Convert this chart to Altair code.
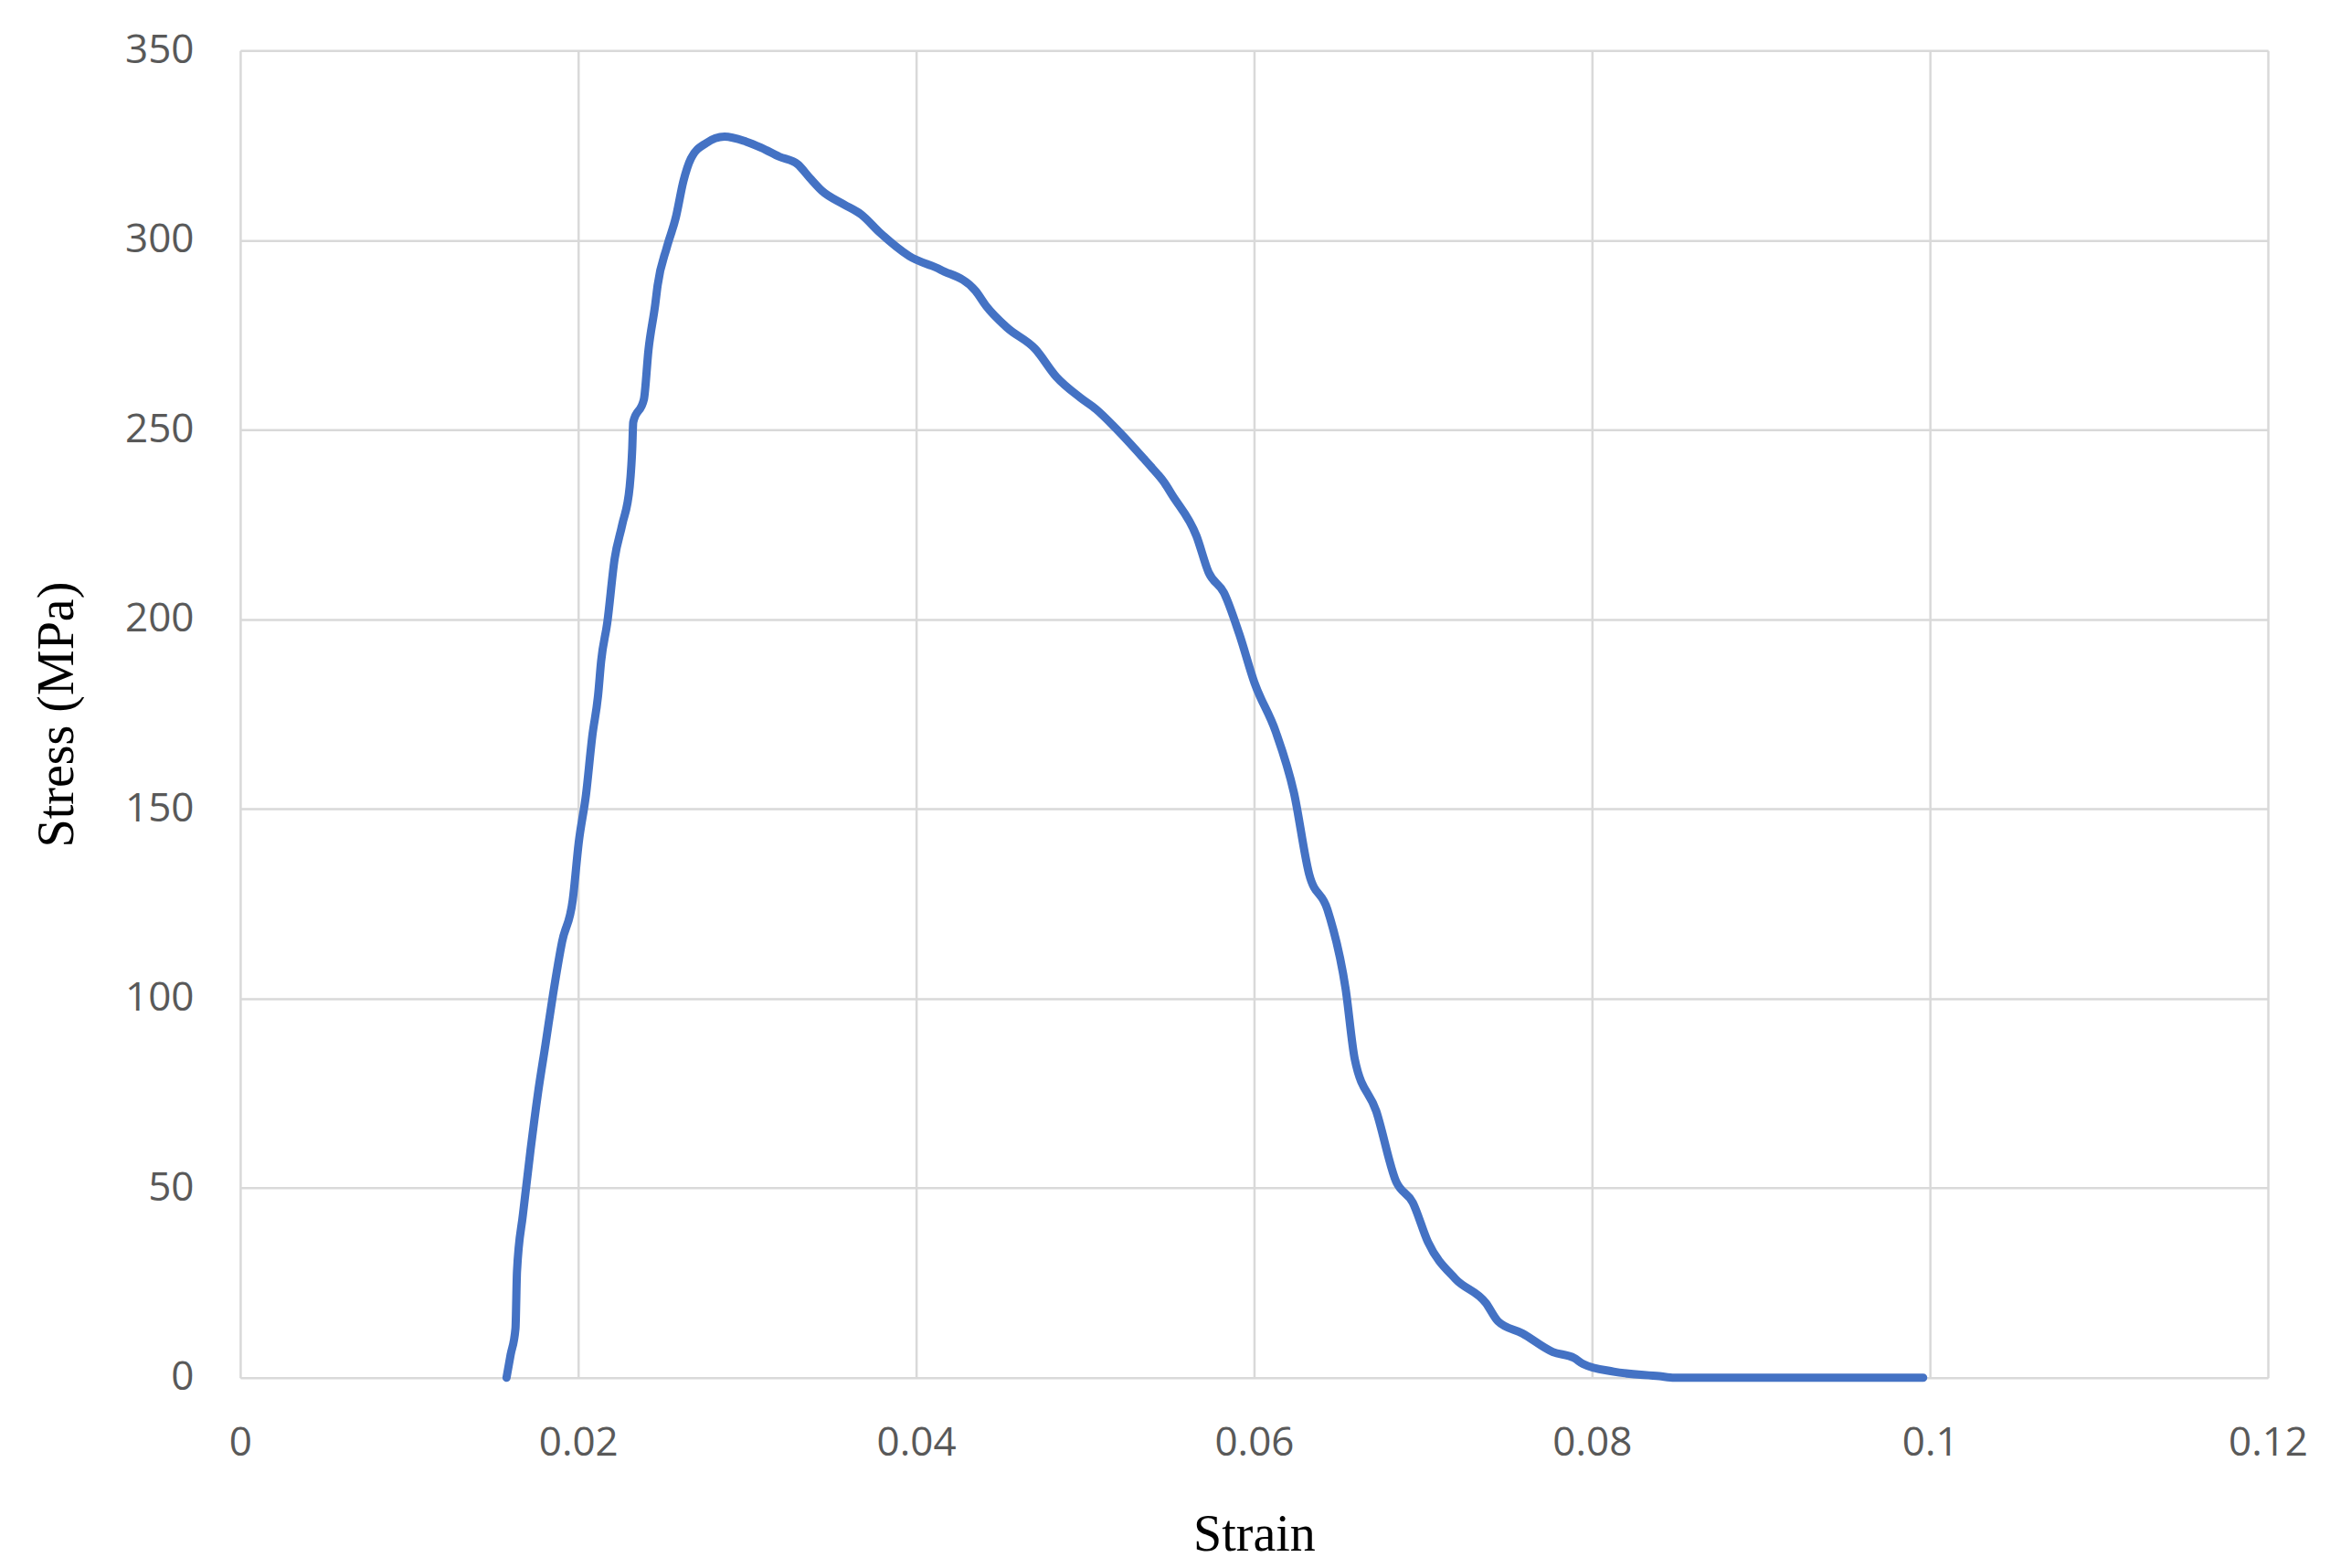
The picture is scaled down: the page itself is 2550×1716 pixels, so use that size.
import altair as alt
import pandas as pd

strain = [0.01576, 0.01600, 0.01629, 0.01638, 0.01673, 0.01718, 0.01762, 0.01807,
          0.01851, 0.01905, 0.01968, 0.02003, 0.02047, 0.02083, 0.02118, 0.02136,
          0.02172, 0.02216, 0.02261, 0.02305, 0.02320, 0.02326, 0.02389, 0.02416,
          0.02456, 0.02470, 0.02524, 0.02578, 0.02623, 0.02668, 0.02758, 0.02866,
          0.02993, 0.03083, 0.03191, 0.03299, 0.03371, 0.03443, 0.03569, 0.03677,
          0.03785, 0.03959, 0.04145, 0.04352, 0.04415, 0.04539, 0.04705, 0.04829,
          0.04974, 0.05065, 0.05181, 0.05347, 0.05389, 0.05470, 0.05515, 0.05659,
          0.05731, 0.05822, 0.05912, 0.06002, 0.06128, 0.06236, 0.06326, 0.06434,
          0.06542, 0.06596, 0.06723, 0.06840, 0.06939, 0.07029, 0.07191, 0.07372,
          0.07443, 0.07588, 0.07768, 0.07894, 0.07948, 0.08128, 0.08398, 0.08488,
          0.0996]
stress = [0, 6, 13, 28, 43, 60, 75, 88,
          101, 115, 126, 141, 154, 169, 180, 189,
          199, 216, 225, 235, 245, 252, 258, 271,
          283, 288, 298, 306, 315.6, 321.6, 325.6, 327.3,
          326, 324.4, 322, 320, 316.4, 313, 309.5, 306.7,
          302, 295.8, 292.2, 286.6, 282.6, 276.9, 271.3, 264,
          258.4, 255.4, 250.4, 242.4, 240.3, 236, 232.8, 222,
          212.4, 207, 196.2, 183.3, 170.4, 154.3, 132.8, 123.5,
          102.5, 84, 70.3, 51.8, 46.2, 35.8, 26.1, 19.7,
          14.9, 11.7, 6.8, 5.2, 3.6, 1.6, 0.4, 0,
          0]

x_ticks = [0, 0.02, 0.04, 0.06, 0.08, 0.1, 0.12]
y_ticks = [0, 50, 100, 150, 200, 250, 300, 350]

df = pd.DataFrame({"strain": strain, "stress": stress, "idx": list(range(len(strain)))})

grid_color = "#d9d9d9"
label_color = "#595959"

chart = alt.Chart(df).mark_line(color="#4472C4", strokeWidth=9, strokeJoin="round",
                                strokeCap="round", interpolate="monotone").encode(
    x=alt.X("strain:Q",
            scale=alt.Scale(domain=[0, 0.12], nice=False, zero=False),
            axis=alt.Axis(values=x_ticks, labelExpr="format(datum.value, '~g')", title="Strain",
                          grid=True, gridColor=grid_color, gridWidth=2.5,
                          domain=False, ticks=False,
                          labelFont="Open Sans", labelFontSize=44, labelColor=label_color,
                          labelPadding=50, labelFlush=False,
                          titleFont="Liberation Serif", titleFontSize=56, titleFontWeight="normal",
                          titleColor="#000000", titleBaseline="alphabetic", titleY=189)),
    y=alt.Y("stress:Q",
            scale=alt.Scale(domain=[0, 350], nice=False),
            axis=alt.Axis(values=y_ticks, title="Stress (MPa)",
                          grid=True, gridColor=grid_color, gridWidth=2.5,
                          domain=False, ticks=False,
                          labelFont="Open Sans", labelFontSize=44, labelColor=label_color,
                          labelPadding=51, labelFlush=False,
                          titleFont="Liberation Serif", titleFontSize=56, titleFontWeight="normal",
                          titleColor="#000000", titleBaseline="alphabetic", titleAngle=-90,
                          titleX=-183)),
    order="idx:Q",
).properties(
    width=2220,
    height=1453,
    autosize=alt.AutoSizeParams(type="none"),
    padding={"left": 255, "top": 47, "right": 60, "bottom": 200},
).configure_view(strokeWidth=0).configure(background="white")

chart.save("out.html", embed_options={"renderer": "svg", "actions": False})
